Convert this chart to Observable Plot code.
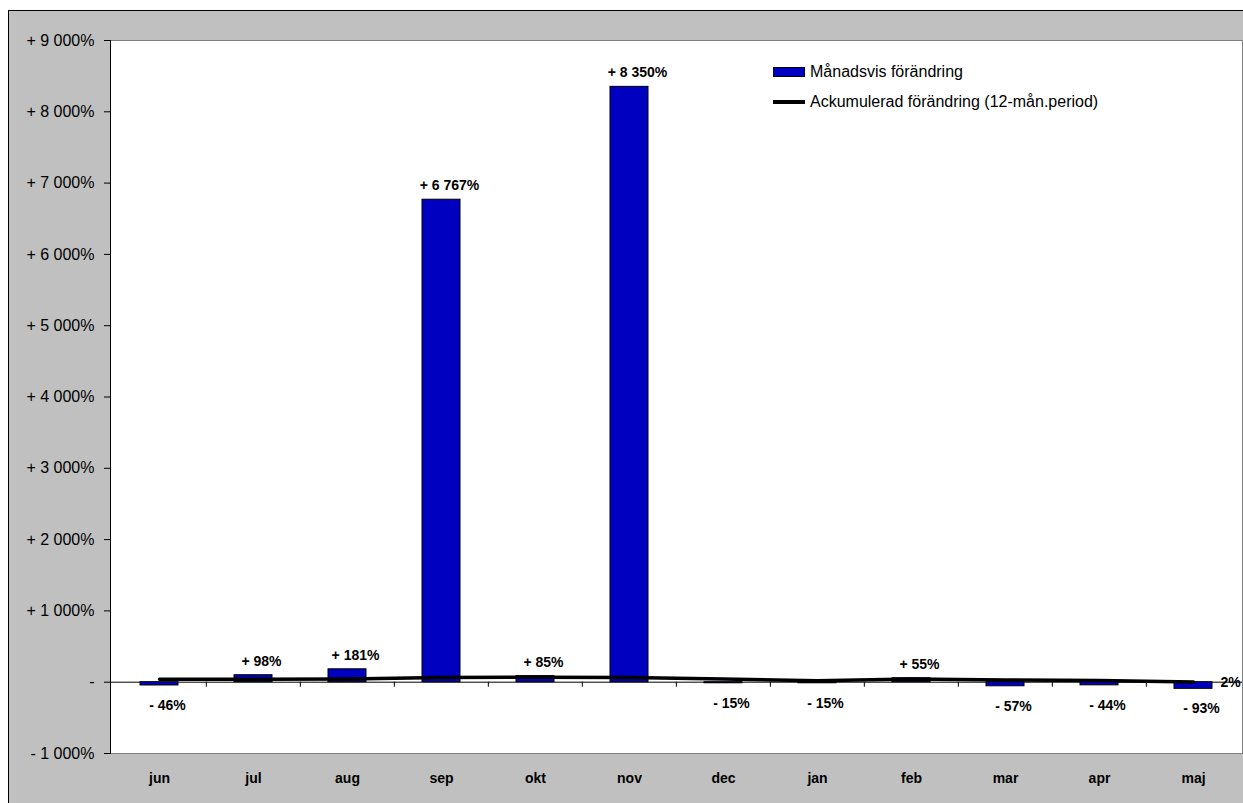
<!DOCTYPE html>
<html><head><meta charset="utf-8">
<script src="https://cdn.jsdelivr.net/npm/d3@7"></script>
<script src="https://cdn.jsdelivr.net/npm/@observablehq/plot@0.6"></script>
<style>
body{margin:0;background:#fff;font-family:"Liberation Sans",Arial,sans-serif;}
#wrap{position:relative;width:1243px;height:803px;overflow:hidden;}
#bg{position:absolute;left:8px;top:10px;width:1300px;height:900px;background:#c0c0c0;border-left:1px solid #000;border-top:1px solid #000;}
#chart{position:absolute;left:0;top:0;}
#legend{position:absolute;left:773px;top:62px;font-size:16px;color:#000;}
#legend .row{display:flex;align-items:center;height:20px;margin-bottom:10px;white-space:nowrap;}
#legend .sw{display:inline-block;width:32px;margin-right:5px;box-sizing:border-box;}
</style></head>
<body><div id="wrap"><div id="bg"></div><div id="chart"></div><div id="legend"></div></div>
<script>
const months = ["jun","jul","aug","sep","okt","nov","dec","jan","feb","mar","apr","maj"];
const monthly = [-46, 98, 181, 6767, 85, 8350, -15, -15, 55, -57, -44, -93];
const cumulative = [40, 40, 45, 65, 70, 65, 45, 20, 45, 30, 25, 2];
const yTicks = [-1000, 0, 1000, 2000, 3000, 4000, 5000, 6000, 7000, 8000, 9000];
const seriesNames = ["Månadsvis förändring", "Ackumulerad förändring (12-mån.period)"];
const barColor = "#0000c0";

const W = 1243, H = 803, mL = 110, mR = 1, mT = 40, mB = 50;
const bw = (W - mL - mR) / months.length;

const data = months.map((m, i) => ({month: m, monthly: monthly[i], cumulative: cumulative[i]}));
const fmtNum = d3.format(",");
const sgnFmt = v => (v > 0 ? "+ " : "- ") + fmtNum(Math.abs(v)).replace(/,/g, " ") + "%";
const yFmt = v => v === 0 ? "-" : sgnFmt(v);
const last = data[data.length - 1];

const chart = Plot.plot({
  width: W, height: H,
  marginLeft: mL, marginRight: mR, marginTop: mT, marginBottom: mB,
  style: {background: "transparent", fontFamily: "'Liberation Sans', Arial, sans-serif", color: "#000"},
  x: {domain: months, padding: 0},
  y: {domain: [-1000, 9000]},
  marks: [
    Plot.frame({fill: "white", stroke: "#808080"}),
    Plot.ruleY([0], {stroke: "black", strokeWidth: 1}),
    Plot.ruleX(months.slice(1), {x: d => d, y1: 0, y2: 0, insetBottom: -5, dx: -bw / 2, stroke: "black"}),
    Plot.barY(data, {x: "month", y: "monthly", fill: barColor, stroke: "black", strokeWidth: 1, insetLeft: 28, insetRight: 28}),
    Plot.line(data, {x: "month", y: "cumulative", stroke: "black", strokeWidth: 3.5}),
    Plot.text(data.filter(d => d.monthly > 0), {x: "month", y: "monthly", text: d => sgnFmt(d.monthly), dy: -14, dx: 8, fontSize: 14, fontWeight: "bold", lineAnchor: "middle"}),
    Plot.text(data.filter(d => d.monthly < 0), {x: "month", y: "monthly", text: d => sgnFmt(d.monthly), dy: 20, dx: 8, fontSize: 14, fontWeight: "bold", lineAnchor: "middle"}),
    Plot.text([last], {x: "month", y: "cumulative", text: d => d.cumulative + "%", dx: 27, fontSize: 14, fontWeight: "bold", textAnchor: "start", lineAnchor: "middle"}),
    Plot.axisY({ticks: yTicks, tickFormat: yFmt, tickSize: 6, tickPadding: 10, fontSize: 16, label: null}),
    Plot.frame({anchor: "left", stroke: "black"}),
    Plot.axisX({tickSize: 0, tickPadding: 20, fontSize: 14, fontWeight: "bold", label: null})
  ]
});
document.getElementById("chart").appendChild(chart);

const legend = document.getElementById("legend");
seriesNames.forEach((name, i) => {
  const row = document.createElement("div");
  row.className = "row";
  const sw = document.createElement("span");
  sw.className = "sw";
  if (i === 0) { sw.style.height = "10px"; sw.style.background = barColor; sw.style.border = "1px solid #000"; }
  else { sw.style.height = "4px"; sw.style.background = "#000"; }
  const t = document.createElement("span");
  t.textContent = name;
  row.appendChild(sw); row.appendChild(t);
  legend.appendChild(row);
});
</script>
</body></html>
